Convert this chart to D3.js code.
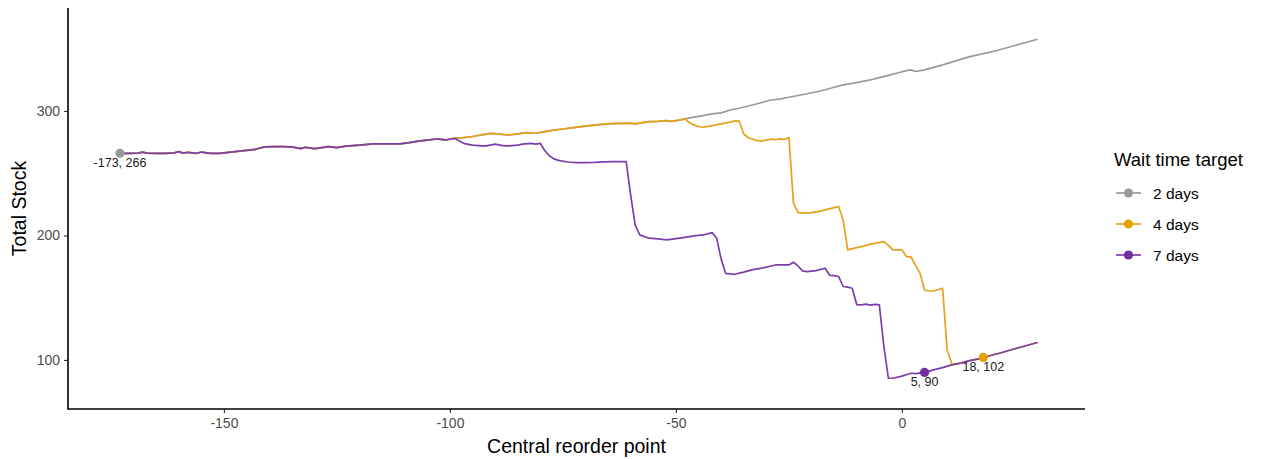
<!DOCTYPE html>
<html><head><meta charset="utf-8">
<script src="https://cdn.jsdelivr.net/npm/d3@7"></script>
<style>body{margin:0;background:#fff;} svg{display:block;font-family:"Liberation Sans",Arial,sans-serif;}</style>
</head><body><svg id="c" width="1263" height="459"></svg>
<script>
// Shared by all three targets (x = central reorder point, y = total stock)
const sharedAll = [[-173,266],[-171,266],[-169,266.2],[-168,266.9],[-167,266.1],[-165,266],[-163,266],[-161,266.4],[-160,267.3],[-159,266.1],[-158,266.8],[-156,266],[-155,267],[-153,266],[-151,266],[-149,266.8],[-147,267.6],[-145,268.4],[-143,269.2],[-141,271.2],[-139,271.3],[-137,271.3],[-135,271.2],[-133,269.7],[-132,270.8],[-130,269.7],[-129,270.2],[-127,271.3],[-125,270.6],[-123,271.8],[-120,272.6],[-117,273.5],[-114,273.5],[-111,273.6],[-109,274.5],[-107,275.8],[-105,276.6],[-103,277.5],[-101,276.7],[-99,278]];
// Shared by 2 days and 4 days
const sharedTwoFour = [[-97,278.6],[-95,279.5],[-93,280.8],[-91,282],[-89,281.4],[-87,280.7],[-85,281.6],[-83,282.6],[-82,282.2],[-81,282.1],[-79,283.4],[-77,284.6],[-75,285.5],[-73,286.4],[-71,287.4],[-69,288.2],[-67,289],[-65,289.6],[-63,290.1],[-61,290],[-60,290.2],[-59,289.6],[-57,290.8],[-56,291.4],[-54,291.7],[-52,292.2],[-51,291.6],[-49,292.8],[-48,293.6]];
const twoDaysTail = [[-46,295],[-44,296.3],[-42,297.6],[-40,298.5],[-38,300.8],[-36,302.2],[-34,304],[-32,305.8],[-30,307.8],[-29,308.8],[-27,309.5],[-25,311],[-23,312.4],[-21,313.8],[-19,315.2],[-17,317],[-15,319],[-13,320.9],[-11,322.2],[-9,323.6],[-7,324.9],[-5,326.8],[-3,328.6],[-1,330.5],[1,332.4],[2,333],[3,331.7],[5,333],[7,335],[9,337],[11,339.2],[13,341.4],[15,343.6],[17,345.2],[19,346.8],[21,348.6],[23,350.6],[25,352.6],[27,354.6],[29,356.6],[30,357.6]];
const fourDaysTail = [[-47,290.5],[-46,288.8],[-45,287.5],[-44,286.9],[-42,288.2],[-40,289.6],[-38,291],[-37,292],[-36,291.8],[-35,281.5],[-34,278.5],[-32,276.2],[-31,275.9],[-29,277.3],[-28,276.9],[-27,277.6],[-26,277.2],[-25,278.6],[-24,226],[-23,218.5],[-22,217.9],[-20,218.4],[-18,219.6],[-17,220.5],[-15,222.3],[-14,223.1],[-13,212.4],[-12,188.4],[-10,190.2],[-8,191.8],[-7,193],[-6,193.6],[-4,195],[-3,192],[-2,188.4],[0,188.4],[1,183],[2,182.8],[3,176],[4,169.7],[5,156.2],[6,155.4],[7,155.4],[9,157.6],[10,108],[11,97.6]];
const sevenDaysTail = [[-98,276],[-97,274],[-95,272.6],[-93,272],[-92,271.9],[-90,273.3],[-88,272],[-87,271.9],[-85,272.6],[-84,273.3],[-82,274],[-81,273.3],[-80,274],[-79,268],[-78,264],[-77,261.5],[-76,260.3],[-74,259],[-72,258.5],[-70,258.5],[-68,258.7],[-66,259.1],[-64,259.3],[-61,259.3],[-60,232],[-59,208],[-58,200.5],[-56,197.8],[-54,197.2],[-52,196.4],[-50,197.5],[-48,198.5],[-46,199.6],[-44,200.4],[-42,202.3],[-41,198],[-40,181],[-39,169.5],[-37,168.8],[-35,170.5],[-33,172.5],[-31,173.8],[-28,176.3],[-25,176.3],[-24,178.5],[-23,175.5],[-22,171.5],[-21,170.9],[-19,171.7],[-17,173.7],[-16,168],[-15,167.7],[-14,167],[-13,159],[-12,158.5],[-11,157.6],[-10,144.5],[-9,144.2],[-8,144.8],[-7,144],[-6,144.6],[-5,144.2],[-4,111],[-3,85.3],[-2,85.3],[0,87],[2,89.3],[3,89],[5,90],[7,92],[9,93.8]];
// Shared by 4 and 7 days after they merge
const lowTail = [[11,96],[13,97.5],[15,99.5],[17,100.8],[18,102],[20,104],[22,105.8],[24,108],[26,110],[28,112],[30,114]];

const seriesNames = ["2 days","4 days","7 days"];
const seriesColors = ["#999999","#E69F00","#7030A0"];
const lineColors = ["#9a9a9a","#E8A21A","#7B3FAA"];
const optimumX = [-173, 18, 5];
const optimumY = [266, 102, 90];
const xTicks = [-150,-100,-50,0];
const yTicks = [100,200,300];

const seriesData = [
  sharedAll.concat(sharedTwoFour, twoDaysTail),
  sharedAll.concat(sharedTwoFour, fourDaysTail, lowTail),
  sharedAll.concat(sevenDaysTail, lowTail)
];

const svg = d3.select("#c");
const L = 68, R = 1085, T = 8, B = 409;
const x = d3.scaleLinear().domain([-184.5, 40.5]).range([L, R]);
const y = d3.scaleLinear().domain([60.6, 382.7]).range([B, T]);

const line = d3.line().x(d => x(d[0])).y(d => y(d[1]));

// axes
const xa = svg.append("g").attr("transform", `translate(0,${B})`)
  .call(d3.axisBottom(x).tickValues(xTicks).tickSize(4).tickPadding(5).tickFormat(d3.format("d")));
const ya = svg.append("g").attr("transform", `translate(${L},0)`)
  .call(d3.axisLeft(y).tickValues(yTicks).tickSize(4).tickPadding(4));
[xa, ya].forEach(a => {
  a.select(".domain").remove();
  a.selectAll(".tick line").attr("stroke", "#333").attr("stroke-width", 1.1);
  a.selectAll(".tick text").attr("fill", "#4d4d4d").style("font-size", "14px").style("font-family", '"Liberation Sans",Arial,sans-serif');
});
xa.selectAll(".tick text").text(d => d < 0 ? "-" + Math.abs(d) : d);
svg.append("line").attr("x1", L).attr("x2", L).attr("y1", T).attr("y2", B + 0.5).attr("stroke", "#000").attr("stroke-width", 1.6);
svg.append("line").attr("x1", L - 0.5).attr("x2", R).attr("y1", B).attr("y2", B).attr("stroke", "#000").attr("stroke-width", 1.6);

svg.append("text").attr("x", (L + R) / 2).attr("y", 453).attr("text-anchor", "middle")
  .style("font-size", "19.5px").attr("fill", "#000").text("Central reorder point");
svg.append("text").attr("transform", `translate(26,${(T + B) / 2}) rotate(-90)`).attr("text-anchor", "middle")
  .style("font-size", "19.5px").attr("fill", "#000").text("Total Stock");

// lines
seriesData.forEach((d, i) => {
  svg.append("path").datum(d).attr("d", line).attr("fill", "none")
    .attr("stroke", lineColors[i]).attr("stroke-width", 1.7).attr("stroke-linejoin", "round");
});
// optimum points + labels
seriesNames.forEach((n, i) => {
  svg.append("circle").attr("cx", x(optimumX[i])).attr("cy", y(optimumY[i])).attr("r", 4.6).attr("fill", seriesColors[i]);
  svg.append("text").attr("x", x(optimumX[i])).attr("y", y(optimumY[i]) + 14).attr("text-anchor", "middle")
    .style("font-size", "12.5px").attr("fill", "#1a1a1a").text(optimumX[i] + ", " + optimumY[i]);
});

// legend
const lg = svg.append("g");
lg.append("text").attr("x", 1114).attr("y", 166).style("font-size", "18.5px").attr("fill", "#000").text("Wait time target");
seriesNames.forEach((n, i) => {
  const cy = 193 + i * 31;
  lg.append("line").attr("x1", 1116).attr("x2", 1141).attr("y1", cy).attr("y2", cy).attr("stroke", lineColors[i]).attr("stroke-width", 1.7);
  lg.append("circle").attr("cx", 1128.5).attr("cy", cy).attr("r", 4.6).attr("fill", seriesColors[i]);
  lg.append("text").attr("x", 1153).attr("y", cy + 5.5).style("font-size", "15.5px").attr("fill", "#000").text(n);
});
</script></body></html>
